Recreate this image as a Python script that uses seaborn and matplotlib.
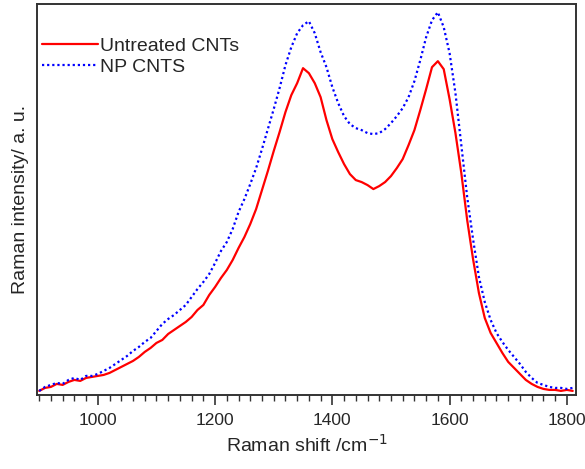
import matplotlib
matplotlib.use("Agg")
import matplotlib.pyplot as plt
from matplotlib.ticker import MultipleLocator
import seaborn as sns
import pandas as pd
import numpy as np

# DATA (arbitrary intensity units)
shift = list(range(900, 1820, 10))

untreated = [4, 7, 8, 11, 10, 13, 15, 14, 17, 18,
             19, 20, 22, 25, 28, 31, 34, 38, 43, 47,
             52, 55, 61, 65, 69, 73, 78, 85, 90, 100,
             108, 117, 125, 135, 147, 158, 171, 186, 205, 224,
             244, 263, 283, 300, 312, 327, 322, 312, 298, 275,
             256, 243, 231, 221, 215, 213, 210, 206, 209, 213,
             219, 227, 236, 250, 265, 285, 306, 328, 334, 326,
             296, 262, 222, 175, 136, 102, 77, 62, 52, 42,
             33, 27, 21, 15, 11, 8, 6, 5, 5, 4,
             5, 4]

np_cnts = [4, 8, 10, 12, 11, 15, 17, 15, 19, 19,
           21, 24, 27, 31, 35, 39, 44, 48, 53, 57,
           64, 71, 76, 80, 85, 90, 98, 106, 113, 121,
           132, 144, 153, 166, 183, 196, 211, 227, 246, 266,
           286, 307, 330, 348, 362, 370, 374, 362, 343, 328,
           308, 292, 279, 271, 267, 265, 262, 261, 262, 266,
           272, 279, 287, 298, 314, 335, 358, 375, 383, 368,
           342, 302, 250, 198, 156, 118, 93, 75, 62, 53,
           45, 38, 31, 23, 17, 12, 10, 8, 7, 7,
           6, 7]

labels = ["Untreated CNTs", "NP CNTS"]

df = pd.DataFrame({"shift": shift, "untreated": untreated, "np": np_cnts})

# STYLE
sns.set_theme(style="white")
plt.rcParams["font.family"] = ["Liberation Sans", "DejaVu Sans"]
FS = 12.5

fig = plt.figure(figsize=(5.85, 4.69), dpi=100)
ax = fig.add_axes([0.063, 0.158, 0.922, 0.833])

sns.lineplot(data=df, x="shift", y="untreated", color="#ff0000",
             linewidth=1.6, label=labels[0], ax=ax)
sns.lineplot(data=df, x="shift", y="np", color="#0000ff",
             linewidth=1.6, linestyle=(0, (1, 1.3)), label=labels[1], ax=ax)

ax.set_xlim(896, 1816)
ax.set_ylim(0, 391)
ax.set_xlabel("Raman shift /cm$^{-1}$", fontsize=14, labelpad=4)
ax.set_ylabel("Raman intensity/ a. u.", fontsize=14, labelpad=6)

# AXIS TICKS
ax.xaxis.set_major_locator(MultipleLocator(200))
ax.xaxis.set_minor_locator(MultipleLocator(20))
ax.set_yticks([])
ax.tick_params(axis="x", which="major", direction="out", length=7,
               width=1.2, labelsize=FS, pad=6, bottom=True, top=False,
               color="#333333")
ax.tick_params(axis="x", which="minor", direction="out", length=4.5,
               width=1.0, bottom=True, top=False, color="#333333")
for s in ax.spines.values():
    s.set_color("#333333")
    s.set_linewidth(1.4)

ax.legend(loc="upper left", frameon=False, fontsize=14,
          handlelength=2.9, handletextpad=0.1, labelspacing=0.2,
          borderpad=0.0, borderaxespad=0.0,
          bbox_to_anchor=(0.009, 0.916))

fig.savefig("out.png", dpi=100)
